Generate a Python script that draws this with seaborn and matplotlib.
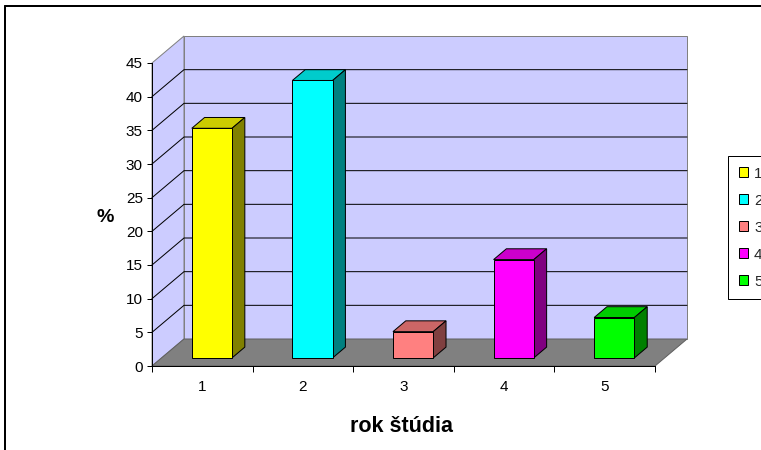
import matplotlib
matplotlib.use("Agg")
import matplotlib.pyplot as plt
import seaborn as sns
from matplotlib.patches import Polygon, Patch
from matplotlib.lines import Line2D
from matplotlib.transforms import IdentityTransform, offset_copy

# data
years = ["1", "2", "3", "4", "5"]
percent = [34.1, 41.2, 3.9, 14.6, 6.0]
front_colors = ["#FFFF00", "#00FFFF", "#FF8080", "#FF00FF", "#00FF00"]
top_colors = ["#CCCC00", "#00CCCC", "#CC6666", "#CC00CC", "#00CC00"]
side_colors = ["#808000", "#008080", "#804040", "#800080", "#008000"]
y_ticks = [0, 5, 10, 15, 20, 25, 30, 35, 40, 45]
y_label = "%"
x_label = "rok štúdia"

W, H = 761, 450
DX, DY = 32, 27            # depth vector of the 3-D box, in pixels
D0, D1 = 0.3, 0.7          # depth range occupied by the bars
WALL = "#CCCCFF"
FLOOR = "#808080"
EDGE = "#808080"
PX = 0.72                  # one pixel in points

sns.set_theme(style="white")
plt.rcParams["font.family"] = ["Liberation Sans", "DejaVu Sans"]

fig = plt.figure(figsize=(W / 100, H / 100), dpi=100)
ax = fig.add_axes([152 / W, 84 / H, 503 / W, 303 / H])
ax.patch.set_visible(False)

sns.barplot(x=years, y=percent, hue=years, palette=front_colors, width=0.4,
            edgecolor="black", linewidth=PX, saturation=1, legend=False, ax=ax)
ax.set_xlim(-0.5, len(years) - 0.5)
ax.set_ylim(y_ticks[0], y_ticks[-1])
XL, XR = ax.get_xlim()
YT = y_ticks[-1]


def px(x, y, d):
    X, Y = ax.transData.transform((x, y))
    return (X + d * DX, Y + d * DY)


def poly(points, fc, ec, z, lw=PX):
    ax.add_patch(Polygon(points, closed=True, facecolor=fc, edgecolor=ec,
                         linewidth=lw, transform=IdentityTransform(),
                         clip_on=False, zorder=z))


# walls and floor
poly([px(XL, 0, 1), px(XR, 0, 1), px(XR, YT, 1), px(XL, YT, 1)], WALL, EDGE, 0.2)
poly([px(XL, 0, 0), px(XL, YT, 0), px(XL, YT, 1), px(XL, 0, 1)], WALL, EDGE, 0.2)
poly([px(XL, 0, 0), px(XR, 0, 0), px(XR, 0, 1), px(XL, 0, 1)], FLOOR, "#606060", 0.3)

# gridlines on the side and back walls
for v in y_ticks[1:-1]:
    pts = [px(XL, v, 0), px(XL, v, 1), px(XR, v, 1)]
    ax.add_line(Line2D([p[0] for p in pts], [p[1] for p in pts], color="black",
                       linewidth=PX, transform=IdentityTransform(),
                       clip_on=False, zorder=0.4))

# bars: front faces from seaborn, pushed back in depth, plus top and side faces
shift = offset_copy(ax.transData, fig=fig, x=D0 * DX, y=D0 * DY, units="dots")
for i, bar in enumerate(ax.patches[:len(years)]):
    bar.set_transform(shift)
    bar.set_clip_on(False)
    bar.set_zorder(1.2)
    x0, w, h = bar.get_x(), bar.get_width(), bar.get_height()
    x1 = x0 + w
    poly([px(x0, h, D0), px(x1, h, D0), px(x1, h, D1), px(x0, h, D1)],
         top_colors[i], "black", 1.1)
    poly([px(x1, 0, D0), px(x1, h, D0), px(x1, h, D1), px(x1, 0, D1)],
         side_colors[i], "black", 1.1)

# axes
for s in ("top", "right"):
    ax.spines[s].set_visible(False)
for s in ("left", "bottom"):
    ax.spines[s].set_color("black")
    ax.spines[s].set_linewidth(PX)
    ax.spines[s].set_zorder(2)

ax.set_yticks(y_ticks)
ax.set_yticklabels([str(v) for v in y_ticks])
ax.set_xticks(range(len(years)))
ax.set_xticklabels(years)
ax.set_xticks([i - 0.5 for i in range(len(years) + 1)], minor=True)
ax.tick_params(axis="y", which="major", left=True, direction="out", length=5 * PX,
               width=PX, color="black", pad=3, labelsize=11, labelcolor="black")
ax.tick_params(axis="x", which="major", bottom=True, length=0, pad=10,
               labelsize=11, labelcolor="black")
ax.tick_params(axis="x", which="minor", bottom=True, direction="out",
               length=6 * PX, width=PX, color="black")

ax.set_ylabel(y_label, rotation=0, fontsize=14, fontweight="bold",
              ha="center", va="center", color="black")
ax.yaxis.set_label_coords(-(152 - 105) / 503, (366 - 217) / 303)
ax.set_xlabel(x_label, fontsize=15.5, fontweight="bold", ha="center",
              va="center", color="black")
ax.xaxis.set_label_coords((402 - 152) / 503, -(427 - 366) / 303)

# legend
handles = [Patch(facecolor=c, edgecolor="black", linewidth=PX) for c in front_colors]
leg = fig.legend(handles, years, loc="upper left",
                 bbox_to_anchor=(728 / W, 1 - 156 / H), bbox_transform=fig.transFigure,
                 borderaxespad=0, fontsize=11, frameon=True, fancybox=False,
                 framealpha=1, edgecolor="black", handlelength=0.6,
                 handleheight=0.6, handletextpad=0.4, labelspacing=0.85,
                 borderpad=0.7)
leg.get_frame().set_linewidth(PX)

# chart border (top and left edges visible)
fig.add_artist(Line2D([5, W + 5], [H - 6, H - 6], color="black", linewidth=2 * PX,
                      transform=IdentityTransform()))
fig.add_artist(Line2D([5, 5], [H - 6, -5], color="black", linewidth=2 * PX,
                      transform=IdentityTransform()))

fig.savefig("out.png", dpi=100, facecolor="white")
